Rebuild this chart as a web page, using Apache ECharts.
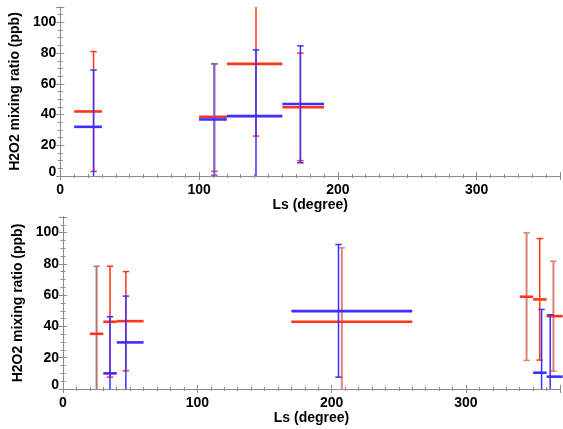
<!DOCTYPE html>
<html><head><meta charset="utf-8">
<script src="https://cdn.jsdelivr.net/npm/echarts@6/dist/echarts.min.js"></script>
<style>html,body{margin:0;padding:0;background:#fff}#c{width:563px;height:429px}</style>
</head><body><div id="c"></div>
<script>
// ---------- data : top panel ----------
const topRedLs    = [24, 111, 141, 173];
const topRedLo    = [10, 100, 120, 160];
const topRedHi    = [30, 120, 160, 190];
const topRedVal   = [42, 38.5, 73, 44.7];
const topRedErrLo = [3, 3, 26, 10];
const topRedErrHi = [81, 73, 125, 80];

const topBlueLs    = [24, 111, 141, 173];
const topBlueLo    = [10, 100, 120, 160];
const topBlueHi    = [30, 120, 160, 190];
const topBlueVal   = [32, 36.8, 39, 46.9];
const topBlueErrLo = [-5, 0.5, -5, 8.6];
const topBlueErrHi = [69, 73, 82, 84.7];

// ---------- data : bottom panel ----------
const botRedLs    = [25, 35, 46.8, 207.6, 345.1, 354.9, 365.1];
const botRedLo    = [20, 30, 40, 170, 340, 350, 360];
const botRedHi    = [30, 40, 60, 260, 350, 360, 372];
const botRedVal   = [35.3, 43, 43.4, 43, 59, 57.3, 46.6];
const botRedErrLo = [-5, 7.6, 11.7, -5, 18.3, 18.5, 11.4];
const botRedErrHi = [78.5, 78.5, 75.1, 90.3, 99.9, 96.2, 81.7];

const botBlueLs    = [35, 46.8, 205.1, 356.3, 362.7];
const botBlueLo    = [30, 40, 170, 350, 360];
const botBlueHi    = [40, 60, 260, 360, 372];
const botBlueVal   = [10, 29.8, 49.8, 10.4, 7.9];
const botBlueErrLo = [-5, -5, 7.6, -5, -5];
const botBlueErrHi = [46.2, 59.4, 92.4, 50.9, 47.5];

// ---------- tick labels ----------
const xTickLabels = [0, 100, 200, 300];
const yTickLabels = [0, 20, 40, 60, 80, 100];

// ---------- styles (not data) ----------
const RED = '#ff3418', BLUE = '#3d2fff', AXIS = '#8c8c8c';
const topRedTint  = [null, null, null, null];
const topBlueTint = [null, '#7e5cd2', null, null];
const botRedTint  = ['#b5736f', null, null, '#e0857a', '#e08074', null, '#e08074'];
const botBlueTint = [null, null, null, null, null];
const Y_MIN = 0, Y_MAX = 110;
const FONT = 'Liberation Sans';

function xAxesFor(g, xMax) {
  const base = {type: 'value', gridIndex: g, min: 0, max: xMax, splitLine: {show: false}};
  const lab = {
    show: true, margin: 7, color: '#000', fontSize: 14, fontWeight: 'bold', fontFamily: FONT,
    formatter: v => xTickLabels.includes(v) ? String(v) : ''
  };
  return [
    Object.assign({}, base, {position: 'bottom', interval: 100,
      axisLine: {show: true, lineStyle: {color: AXIS, width: 1}},
      axisTick: {show: true, inside: true, length: 4, lineStyle: {color: AXIS}},
      axisLabel: lab,
      name: 'Ls (degree)', nameLocation: 'middle', nameGap: 22,
      nameTextStyle: {color: '#000', fontSize: 14, fontWeight: 'bold', fontFamily: FONT}}),
    Object.assign({}, base, {position: 'bottom', interval: 10,
      axisLine: {show: false}, axisTick: {show: true, inside: true, length: 2, lineStyle: {color: AXIS}},
      axisLabel: {show: false}}),
    Object.assign({}, base, {position: 'top', interval: 100,
      axisLine: {show: true, lineStyle: {color: AXIS, width: 1}},
      axisTick: {show: true, inside: true, length: 4, lineStyle: {color: AXIS}},
      axisLabel: {show: false}}),
    Object.assign({}, base, {position: 'top', interval: 10,
      axisLine: {show: false}, axisTick: {show: true, inside: true, length: 2, lineStyle: {color: AXIS}},
      axisLabel: {show: false}})
  ];
}
function yAxesFor(g) {
  const base = {type: 'value', gridIndex: g, min: Y_MIN, max: Y_MAX, splitLine: {show: false}};
  const lab = {
    show: true, margin: 4, color: '#000', fontSize: 14, fontWeight: 'bold', fontFamily: FONT,
    formatter: v => v === 0 ? '{z|0}' : (yTickLabels.includes(v) ? String(v) : ''),
    rich: {z: {padding: [0, 0, 8, 0], color: '#000', fontSize: 14, fontWeight: 'bold', fontFamily: FONT}}
  };
  return [
    Object.assign({}, base, {position: 'left', interval: 20,
      axisLine: {show: true, lineStyle: {color: AXIS, width: 1}},
      axisTick: {show: true, inside: true, length: 4, lineStyle: {color: AXIS}},
      axisLabel: lab,
      name: 'H2O2 mixing ratio (ppb)', nameLocation: 'middle', nameGap: 36,
      nameTextStyle: {color: '#000', fontSize: 14, fontWeight: 'bold', fontFamily: FONT}}),
    Object.assign({}, base, {position: 'left', interval: 5,
      axisLine: {show: false}, axisTick: {show: true, inside: true, length: 2.5, lineStyle: {color: AXIS}},
      axisLabel: {show: false}}),
    Object.assign({}, base, {position: 'right', interval: 20,
      axisLine: {show: true, lineStyle: {color: AXIS, width: 1}},
      axisTick: {show: true, inside: true, length: 4, lineStyle: {color: AXIS}},
      axisLabel: {show: false}}),
    Object.assign({}, base, {position: 'right', interval: 5,
      axisLine: {show: false}, axisTick: {show: true, inside: true, length: 2.5, lineStyle: {color: AXIS}},
      axisLabel: {show: false}})
  ];
}

function errSeries(xIdx, yIdx, ls, lo, hi, val, eLo, eHi, color, tint, z) {
  return {
    type: 'custom', xAxisIndex: xIdx, yAxisIndex: yIdx, z: z,
    data: ls.map((v, i) => [v, lo[i], hi[i], val[i], eLo[i], eHi[i]]),
    renderItem: function (params, api) {
      const i = params.dataIndex;
      const x = api.value(0), x0 = api.value(1), x1 = api.value(2), y = api.value(3);
      const e0 = api.value(4), e1 = api.value(5);
      const c = tint[i] || color;
      const pB = api.coord([x, Math.max(e0, Y_MIN)]);
      const pT = api.coord([x, Math.min(e1, Y_MAX)]);
      const hL = api.coord([x0, y]), hR = api.coord([x1, y]);
      const w = tint[i] ? 2 : 1.5, cap = 3.2;
      const ch = [];
      ch.push({type: 'line', shape: {x1: pB[0], y1: pB[1], x2: pT[0], y2: pT[1]}, style: {stroke: c, lineWidth: w}});
      if (e0 >= Y_MIN) ch.push({type: 'line', shape: {x1: pB[0] - cap, y1: pB[1], x2: pB[0] + cap, y2: pB[1]}, style: {stroke: c, lineWidth: 1.5}});
      if (e1 <= Y_MAX) ch.push({type: 'line', shape: {x1: pT[0] - cap, y1: pT[1], x2: pT[0] + cap, y2: pT[1]}, style: {stroke: c, lineWidth: 1.5}});
      ch.push({type: 'line', shape: {x1: hL[0], y1: hL[1], x2: hR[0], y2: hR[1]}, style: {stroke: color, lineWidth: 2.6}});
      return {type: 'group', children: ch};
    }
  };
}

const chart = echarts.init(document.getElementById('c'), null, {renderer: 'canvas'});
chart.setOption({
  backgroundColor: '#fff',
  animation: false,
  grid: [
    {left: 58, top: 7, width: 504, height: 169},
    {left: 63, top: 217, width: 503, height: 172}
  ],
  xAxis: xAxesFor(0, 360).concat(xAxesFor(1, 370)),
  yAxis: yAxesFor(0).concat(yAxesFor(1)),
  series: [
    errSeries(0, 0, topRedLs, topRedLo, topRedHi, topRedVal, topRedErrLo, topRedErrHi, RED, topRedTint, 2),
    errSeries(0, 0, topBlueLs, topBlueLo, topBlueHi, topBlueVal, topBlueErrLo, topBlueErrHi, BLUE, topBlueTint, 3),
    errSeries(4, 4, botRedLs, botRedLo, botRedHi, botRedVal, botRedErrLo, botRedErrHi, RED, botRedTint, 2),
    errSeries(4, 4, botBlueLs, botBlueLo, botBlueHi, botBlueVal, botBlueErrLo, botBlueErrHi, BLUE, botBlueTint, 3)
  ]
});
</script></body></html>
